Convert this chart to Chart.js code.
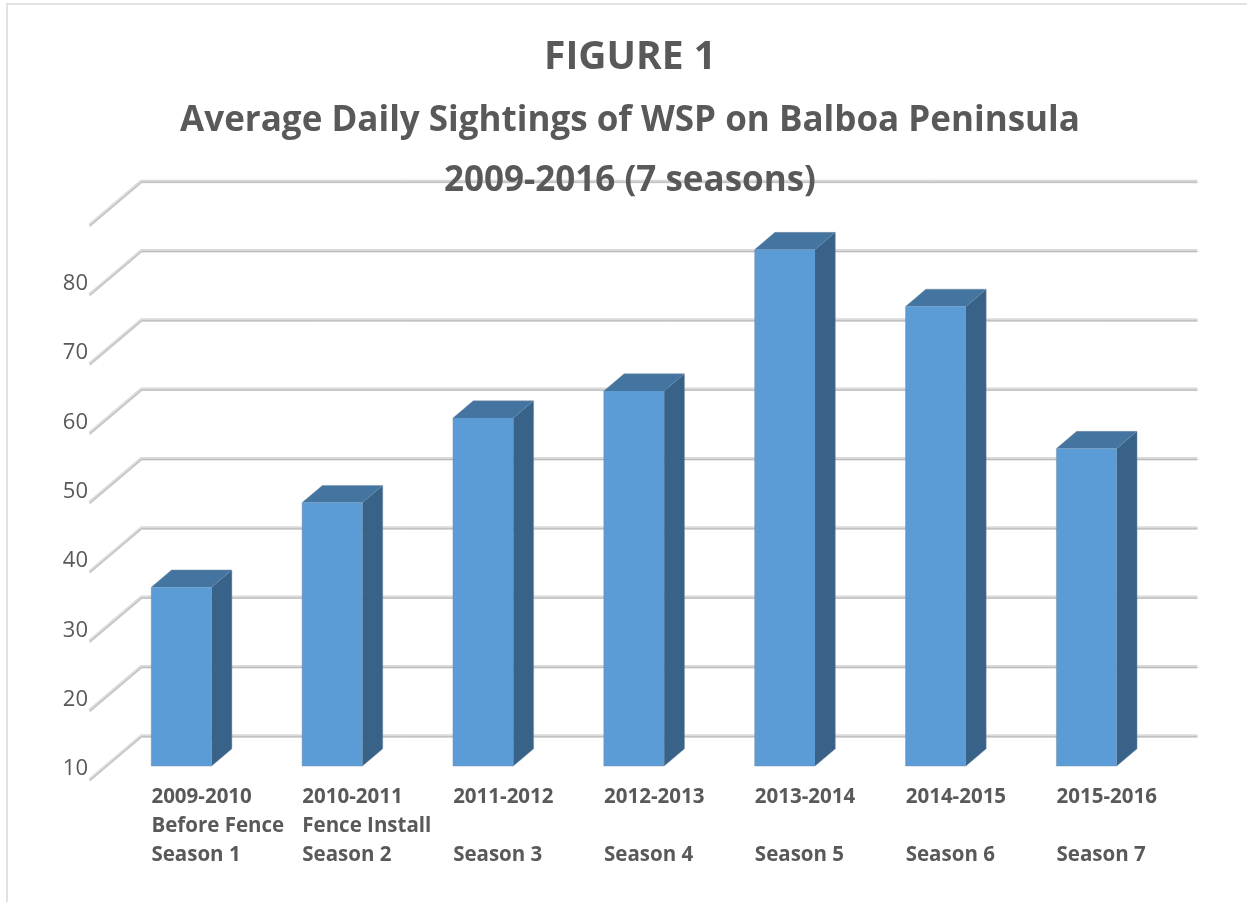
<!DOCTYPE html>
<html>
<head>
    <title>Figure 1</title>
    <script src="https://cdn.jsdelivr.net/npm/chart.js"></script>
    <style>
        html, body { margin: 0; padding: 0; background: #ffffff; }
        #wrap { width: 1247px; height: 902px; }
    </style>
</head>
<body>
    <div id="wrap"><canvas id="chart" width="1247" height="902"></canvas></div>

    <script>
        // data
        var seasons = [
            ["2009-2010", "Before Fence", "Season 1"],
            ["2010-2011", "Fence Install", "Season 2"],
            ["2011-2012", "", "Season 3"],
            ["2012-2013", "", "Season 4"],
            ["2013-2014", "", "Season 5"],
            ["2014-2015", "", "Season 6"],
            ["2015-2016", "", "Season 7"]
        ];
        var sightings = [35.8, 48, 60.2, 64.1, 84.5, 76.3, 55.8];
        var titleText = "FIGURE 1";
        var subtitleLines = ["Average Daily Sightings of WSP on Balboa Peninsula", "2009-2016 (7 seasons)"];

        var textColor = "#595959";
        var fontFamily = "'Open Sans', 'Liberation Sans', sans-serif";

        // depth of the 3d box: full depth, and where the bars sit inside it
        var depthX = 52, depthY = 44;
        var frontFrac = 0.318, barFrac = 0.39;

        function line(ctx, x1, y1, x2, y2) {
            ctx.beginPath();
            ctx.moveTo(x1, y1);
            ctx.lineTo(x2, y2);
            ctx.stroke();
        }

        // back wall gridlines + diagonals on the left wall, drawn under everything
        var wallPlugin = {
            id: "wall",
            beforeDraw: function (chart) {
                var ctx = chart.ctx;
                var area = chart.chartArea;
                var ys = chart.scales.y;
                var fx = depthX * frontFrac, fy = depthY * frontFrac;
                var bx = depthX * (1 - frontFrac), by = depthY * (1 - frontFrac);
                ctx.save();
                // outer frame (top and left only)
                ctx.strokeStyle = "#e2e2e2";
                ctx.lineWidth = 2;
                line(ctx, 6, 4, chart.width, 4);
                line(ctx, 7, 4, 7, chart.height);

                ys.ticks.forEach(function (t) {
                    var y = ys.getPixelForValue(t.value);
                    var pts = [
                        [area.left - fx, y + fy],
                        [area.left + bx, y - by],
                        [area.right + bx, y - by]
                    ];
                    ctx.lineJoin = "round";
                    ctx.strokeStyle = "#dadada";
                    ctx.lineWidth = 3.5;
                    ctx.beginPath();
                    ctx.moveTo(pts[0][0], pts[0][1]);
                    ctx.lineTo(pts[1][0], pts[1][1]);
                    ctx.lineTo(pts[2][0], pts[2][1]);
                    ctx.stroke();
                    ctx.strokeStyle = "#b9b9b9";
                    ctx.lineWidth = 1;
                    ctx.beginPath();
                    ctx.moveTo(pts[0][0], pts[0][1] + 0.8);
                    ctx.lineTo(pts[1][0], pts[1][1] + 0.8);
                    ctx.lineTo(pts[2][0], pts[2][1] + 0.8);
                    ctx.stroke();
                });
                ctx.restore();
            }
        };

        // top and side faces of each bar
        var boxPlugin = {
            id: "box",
            afterDatasetsDraw: function (chart) {
                var ctx = chart.ctx;
                var dx = depthX * barFrac, dy = depthY * barFrac;
                ctx.save();
                chart.getDatasetMeta(0).data.forEach(function (bar) {
                    var l = bar.x - bar.width / 2, r = bar.x + bar.width / 2;
                    var top = bar.y, base = bar.base;
                    // side
                    ctx.fillStyle = "#386287";
                    ctx.beginPath();
                    ctx.moveTo(r, top);
                    ctx.lineTo(r + dx, top - dy);
                    ctx.lineTo(r + dx, base - dy);
                    ctx.lineTo(r, base);
                    ctx.closePath();
                    ctx.fill();
                    // top
                    ctx.fillStyle = "#4474a0";
                    ctx.beginPath();
                    ctx.moveTo(l, top);
                    ctx.lineTo(l + dx, top - dy);
                    ctx.lineTo(r + dx, top - dy);
                    ctx.lineTo(r, top);
                    ctx.closePath();
                    ctx.fill();
                    // faint outline
                    ctx.strokeStyle = "rgba(120,140,160,0.45)";
                    ctx.lineWidth = 1;
                    ctx.beginPath();
                    ctx.moveTo(l, base);
                    ctx.lineTo(l, top);
                    ctx.lineTo(l + dx, top - dy);
                    ctx.lineTo(r + dx, top - dy);
                    ctx.lineTo(r + dx, base - dy);
                    ctx.lineTo(r, base);
                    ctx.closePath();
                    ctx.stroke();
                });
                ctx.restore();
            }
        };

        var ctx = document.getElementById("chart").getContext("2d");
        var chart = new Chart(ctx, {
            type: "bar",
            data: {
                labels: seasons,
                datasets: [{
                    data: sightings,
                    base: 10,
                    backgroundColor: "#5b9bd6",
                    borderWidth: 0,
                    barPercentage: 0.4,
                    categoryPercentage: 1
                }]
            },
            options: {
                responsive: false,
                animation: false,
                devicePixelRatio: 1,
                layout: { padding: { left: 13, right: 0, top: 0, bottom: 36 } },
                plugins: {
                    legend: { display: false },
                    tooltip: { enabled: false },
                    title: {
                        display: true,
                        text: titleText,
                        color: textColor,
                        font: { family: fontFamily, size: 39, weight: "bold", lineHeight: 1.2 },
                        padding: { top: 34.6, bottom: 0 }
                    },
                    subtitle: {
                        display: true,
                        text: subtitleLines,
                        color: textColor,
                        font: { family: fontFamily, size: 35, weight: "bold", lineHeight: 60 / 35 },
                        padding: { top: 10, bottom: 0 }
                    }
                },
                scales: {
                    x: {
                        grid: { display: false, drawTicks: false },
                        border: { display: false },
                        ticks: {
                            color: textColor,
                            align: "start",
                            labelOffset: -30,
                            padding: 17,
                            maxRotation: 0,
                            autoSkip: false,
                            font: { family: fontFamily, size: 20.5, weight: "bold", lineHeight: 29 / 20.5 }
                        },
                        afterFit: function (scale) { scale.height = 100; }
                    },
                    y: {
                        min: 10,
                        max: 90,
                        grid: { display: false, drawTicks: false },
                        border: { display: false },
                        ticks: {
                            stepSize: 10,
                            color: textColor,
                            padding: 18,
                            labelOffset: 3,
                            font: { family: fontFamily, size: 22 },
                            callback: function (v) { return v === 90 ? "" : v; }
                        },
                        afterFit: function (scale) { scale.width = 93; }
                    },
                    // empty right-hand axis only to hold the room right of the box
                    yRight: {
                        position: "right",
                        grid: { display: false, drawTicks: false },
                        border: { display: false },
                        ticks: { display: false },
                        afterFit: function (scale) { scale.width = 85; }
                    }
                }
            },
            plugins: [wallPlugin, boxPlugin]
        });
    </script>
</body>
</html>
